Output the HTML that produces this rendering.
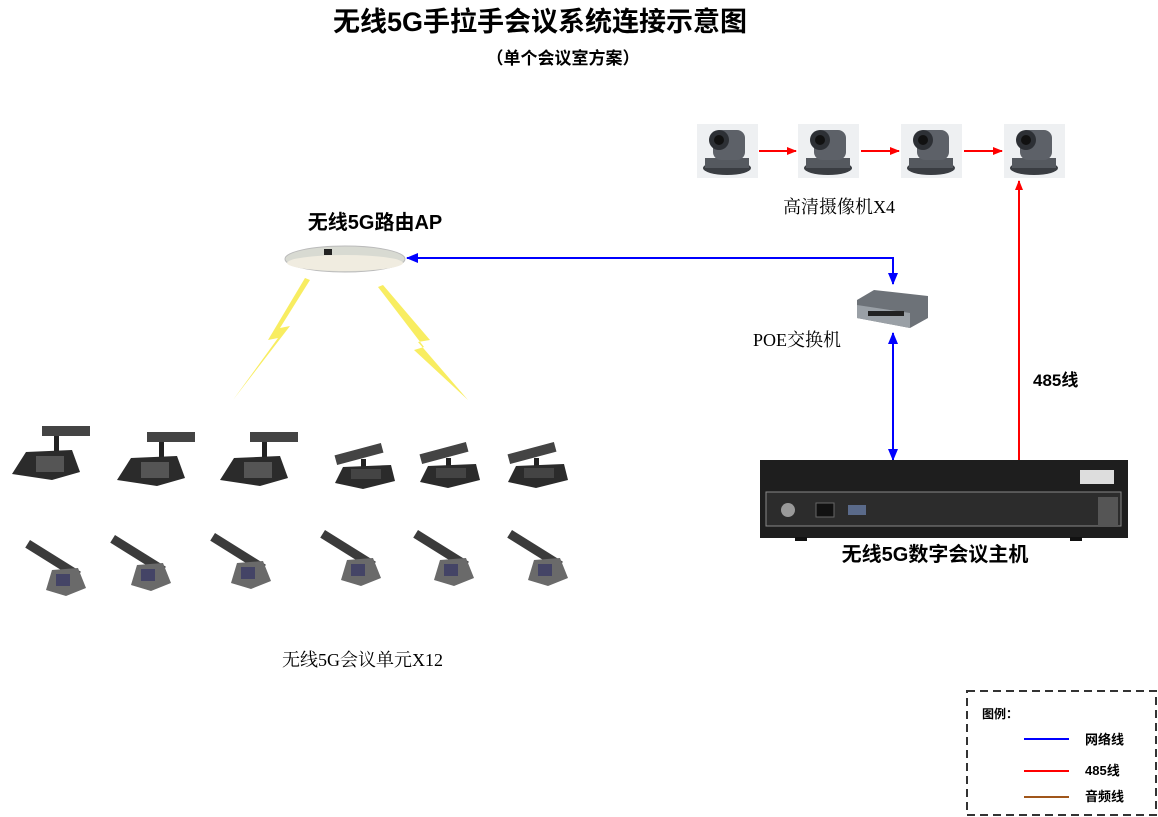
<!DOCTYPE html>
<html><head><meta charset="utf-8"><style>
body{margin:0;background:#fff;}
svg{display:block;}
.b{font-family:"Liberation Sans","Noto Sans CJK SC",sans-serif;font-weight:bold;}
.s{font-family:"Liberation Serif","Noto Serif CJK SC",serif;}
</style></head><body>
<svg width="1158" height="817" viewBox="0 0 1158 817" xmlns="http://www.w3.org/2000/svg">
<defs>
<marker id="ar" markerWidth="10" markerHeight="8" refX="9" refY="4" orient="auto" markerUnits="userSpaceOnUse"><path d="M0,0 L10,4 L0,8z" fill="#f00"/></marker>
<marker id="ab" markerWidth="12" markerHeight="10" refX="11" refY="5" orient="auto" markerUnits="userSpaceOnUse"><path d="M0,0 L12,5 L0,10z" fill="#00f"/></marker>
<g id="cam">
<rect x="0" y="0" width="61" height="54" fill="#eef0f2"/>
<ellipse cx="30" cy="44" rx="24" ry="7" fill="#3a3d42"/>
<rect x="8" y="34" width="44" height="10" fill="#55595f"/>
<rect x="16" y="6" width="32" height="30" rx="8" fill="#5d6168"/>
<circle cx="22" cy="16" r="10" fill="#2d3035"/><circle cx="22" cy="16" r="5" fill="#111"/>
</g>
<g id="m1">
<rect x="30" y="0" width="48" height="10" fill="#444"/>
<rect x="42" y="10" width="5" height="16" fill="#222"/>
<path d="M0,48 L14,26 L60,24 L68,46 L40,54 Z" fill="#2b2b2b"/>
<rect x="24" y="30" width="28" height="16" fill="#555"/>
</g>
<g id="m2">
<rect x="0" y="12" width="48" height="10" transform="rotate(-15 24 17)" fill="#444"/>
<rect x="26" y="22" width="5" height="14" fill="#222"/>
<path d="M0,46 L8,30 L56,28 L60,44 L28,52 Z" fill="#2b2b2b"/>
<rect x="16" y="32" width="30" height="10" fill="#444"/>
</g>
<g id="m3">
<rect x="0" y="0" width="60" height="9" transform="rotate(32 0 0)" fill="#3b3b3b"/>
<path d="M16,50 L22,30 L48,28 L56,48 L36,56 Z" fill="#6a6a6a"/>
<rect x="26" y="34" width="14" height="12" fill="#446"/>
</g>
</defs>
<text x="540" y="31" text-anchor="middle" class="b" font-size="27">无线5G手拉手会议系统连接示意图</text>
<text x="563" y="64" text-anchor="middle" class="b" font-size="17">（单个会议室方案）</text>

<use href="#cam" x="697" y="124"/><use href="#cam" x="798" y="124"/><use href="#cam" x="901" y="124"/><use href="#cam" x="1004" y="124"/>
<line x1="759" y1="151" x2="796" y2="151" stroke="#f00" stroke-width="2" marker-end="url(#ar)"/>
<line x1="861" y1="151" x2="899" y2="151" stroke="#f00" stroke-width="2" marker-end="url(#ar)"/>
<line x1="964" y1="151" x2="1002" y2="151" stroke="#f00" stroke-width="2" marker-end="url(#ar)"/>
<text x="783" y="213" class="s" font-size="18">高清摄像机X4</text>
<line x1="1019" y1="460" x2="1019" y2="181" stroke="#f00" stroke-width="2" marker-end="url(#ar)"/>
<text x="1033" y="386" class="b" font-size="17">485线</text>

<text x="375" y="229" text-anchor="middle" class="b" font-size="20">无线5G路由AP</text>
<ellipse cx="345" cy="259" rx="60" ry="13" fill="#d8dad2" stroke="#bbb"/>
<ellipse cx="345" cy="263" rx="58" ry="8" fill="#f0ece0"/>
<rect x="324" y="249" width="8" height="6" fill="#222"/>
<polyline points="893,282 893,258 407,258" fill="none" stroke="#00f" stroke-width="2" marker-end="url(#ab)"/>
<line x1="893" y1="280" x2="893" y2="284" stroke="#00f" stroke-width="2" marker-end="url(#ab)"/>
<path d="M857,300 L874,290 L928,296 L928,318 L910,328 L857,318 Z" fill="#6d7278"/>
<path d="M857,305 L910,313 L910,328 L857,318 Z" fill="#9aa0a6"/>
<rect x="868" y="311" width="36" height="5" fill="#222"/>
<text x="753" y="346" class="s" font-size="18">POE交换机</text>
<line x1="893" y1="400" x2="893" y2="333" stroke="#00f" stroke-width="2" marker-end="url(#ab)"/>
<line x1="893" y1="400" x2="893" y2="460" stroke="#00f" stroke-width="2" marker-end="url(#ab)"/>

<rect x="760" y="460" width="368" height="78" fill="#1e1e1e"/>
<rect x="766" y="492" width="355" height="34" fill="#2c2c2c" stroke="#888" stroke-width="1"/>
<rect x="1080" y="470" width="34" height="14" fill="#ddd"/>
<rect x="1098" y="497" width="20" height="30" fill="#555"/>
<circle cx="788" cy="510" r="7" fill="#999"/>
<rect x="816" y="503" width="18" height="14" fill="#111" stroke="#666"/>
<rect x="848" y="505" width="18" height="10" fill="#5a6a8a"/>
<rect x="795" y="537" width="12" height="4" fill="#111"/><rect x="1070" y="537" width="12" height="4" fill="#111"/>
<text x="935" y="561" text-anchor="middle" class="b" font-size="20">无线5G数字会议主机</text>

<polygon points="305,278 268,340 278,338 233,400 290,326 280,328 310,280" fill="#f6e93a" opacity="0.8"/>
<polygon points="383,285 430,340 418,342 468,400 414,350 424,347 378,287" fill="#f6e93a" opacity="0.8"/>

<use href="#m1" x="12" y="426"/><use href="#m1" x="117" y="432"/><use href="#m1" x="220" y="432"/>
<use href="#m2" x="335" y="437"/><use href="#m2" x="420" y="436"/><use href="#m2" x="508" y="436"/>
<use href="#m3" x="30" y="540"/><use href="#m3" x="115" y="535"/><use href="#m3" x="215" y="533"/>
<use href="#m3" x="325" y="530"/><use href="#m3" x="418" y="530"/><use href="#m3" x="512" y="530"/>
<text x="282" y="666" class="s" font-size="18">无线5G会议单元X12</text>

<rect x="967" y="691" width="189" height="124" fill="none" stroke="#333" stroke-width="2" stroke-dasharray="8,5"/>
<text x="982" y="718" class="b" font-size="12">图例：</text>
<line x1="1024" y1="739" x2="1069" y2="739" stroke="#00f" stroke-width="2"/>
<text x="1085" y="744" class="b" font-size="13">网络线</text>
<line x1="1024" y1="771" x2="1069" y2="771" stroke="#f00" stroke-width="2"/>
<text x="1085" y="775" class="b" font-size="13">485线</text>
<line x1="1024" y1="797" x2="1069" y2="797" stroke="#a0561a" stroke-width="2"/>
<text x="1085" y="801" class="b" font-size="13">音频线</text>
</svg>
</body></html>
